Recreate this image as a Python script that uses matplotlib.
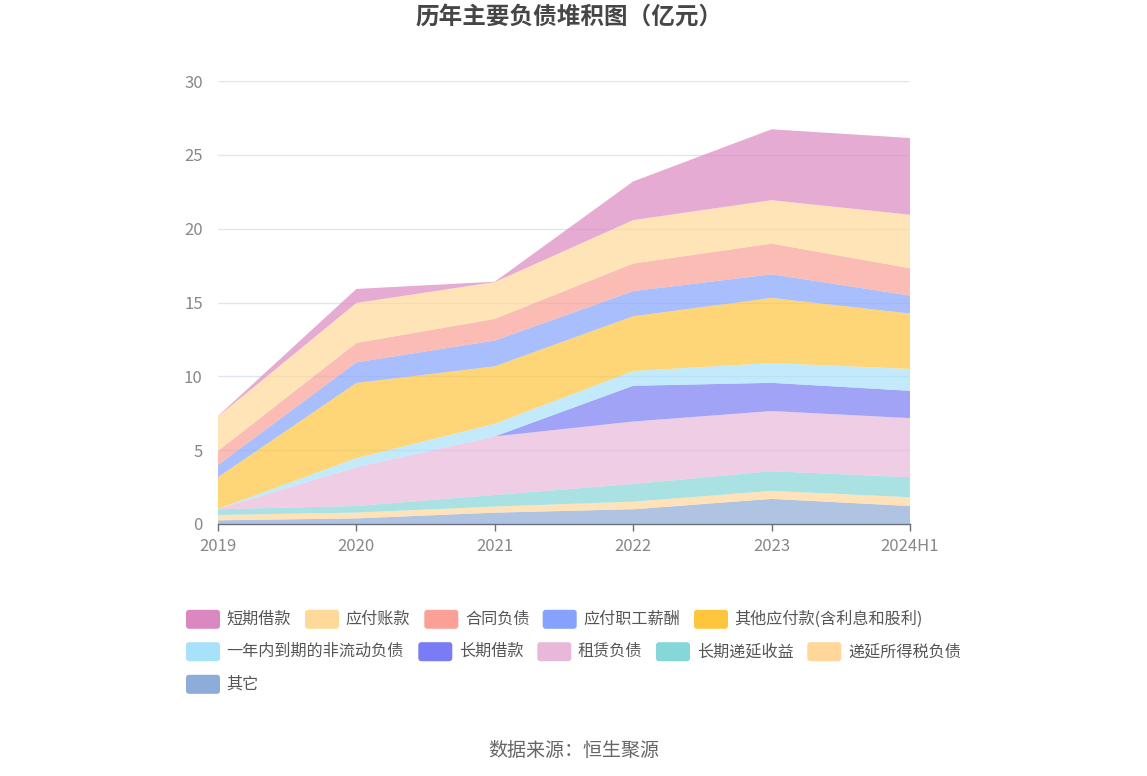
#!/usr/bin/env python3
# -*- coding: utf-8 -*-

import matplotlib

matplotlib.use("Agg")
import matplotlib.pyplot as plt
from matplotlib.patches import FancyBboxPatch

plt.rcParams["font.family"] = ["Noto Sans CJK SC", "DejaVu Sans"]

# 历年主要负债（亿元），从下往上堆叠
periods = ["2019", "2020", "2021", "2022", "2023", "2024H1"]
other = [0.25, 0.38, 0.77, 1.00, 1.70, 1.22]
deferred_tax = [0.36, 0.39, 0.41, 0.51, 0.54, 0.59]
deferred_income = [0.39, 0.45, 0.79, 1.20, 1.34, 1.36]
lease = [0.02, 2.63, 3.96, 4.23, 4.07, 4.00]
long_loan = [0.00, 0.00, 0.00, 2.42, 1.91, 1.85]
current_noncurrent = [0.00, 0.61, 0.86, 1.00, 1.34, 1.48]
other_payable = [2.15, 5.09, 3.89, 3.71, 4.41, 3.75]
payroll = [0.83, 1.40, 1.74, 1.70, 1.60, 1.22]
contract = [0.95, 1.31, 1.47, 1.87, 2.08, 1.85]
accounts_payable = [2.33, 2.71, 2.49, 2.94, 2.94, 3.62]
short_loan = [0.03, 0.95, 0.03, 2.62, 4.80, 5.20]

stack_series = [other, deferred_tax, deferred_income, lease, long_loan,
                current_noncurrent, other_payable, payroll, contract,
                accounts_payable, short_loan]
stack_colors = ["#8EACD8", "#FFD79B", "#86D7D8", "#E8B8DA", "#7A7CF5",
                "#A8E2FA", "#FFC53D", "#85A3FC", "#FAA096", "#FFD999", "#DC88C0"]

legend_names = ["短期借款", "应付账款", "合同负债", "应付职工薪酬", "其他应付款(含利息和股利)",
                "一年内到期的非流动负债", "长期借款", "租赁负债", "长期递延收益", "递延所得税负债",
                "其它"]
legend_colors = ["#DC88C0", "#FFD999", "#FAA096", "#85A3FC", "#FFC53D",
                 "#A8E2FA", "#7A7CF5", "#E8B8DA", "#86D7D8", "#FFD79B",
                 "#8EACD8"]
# legend box left edges / row centres in pixels
legend_x = [186, 305, 424.3, 542.7, 694,
            186, 418.3, 537.3, 656, 807.3,
            186]
legend_y = [619.3] * 5 + [651.7] * 5 + [684.3]

W, H = 1147, 776
fig = plt.figure(figsize=(W / 100, H / 100), dpi=100)
ax = fig.add_axes([218 / W, (H - 524) / H, (910 - 218) / W, (524 - 81) / H])

x = list(range(len(periods)))
ax.stackplot(x, *stack_series, colors=stack_colors, alpha=0.7, linewidth=0)

ax.set_xlim(0, len(periods) - 1)
ax.set_ylim(0, 30)
ax.set_yticks(range(0, 31, 5))
ax.set_xticks(x)
ax.set_xticklabels(periods)
for spine in ["top", "right", "left"]:
    ax.spines[spine].set_visible(False)
ax.spines["bottom"].set_color("#6E7079")
ax.spines["bottom"].set_linewidth(1.0)
ax.tick_params(axis="x", length=5, width=1, color="#6E7079", pad=5,
               labelsize=12, labelcolor="#888888")
ax.tick_params(axis="y", length=0, pad=11, labelsize=12, labelcolor="#888888")
for val in range(5, 31, 5):
    ax.axhline(val, color="#E0E6F1", linewidth=1, zorder=0)

# overlay in pixel units for title, legend and footer
over = fig.add_axes([0, 0, 1, 1], facecolor="none")
over.set_xlim(0, W)
over.set_ylim(H, 0)
over.axis("off")

over.text(W / 2 - 4, 18, "历年主要负债堆积图（亿元）", ha="center", va="center",
          fontsize=17, fontweight="bold", color="#464646")
over.text(W / 2, 750, "数据来源：恒生聚源", ha="center", va="center",
          fontsize=13.7, color="#666666")

for name, color, lx, ly in zip(legend_names, legend_colors, legend_x, legend_y):
    box = FancyBboxPatch((lx + 3, ly - 6.5), 28, 13,
                         boxstyle="round,pad=3", facecolor=color, edgecolor="none")
    over.add_patch(box)
    over.text(lx + 40.7, ly, name, ha="left", va="center",
              fontsize=11.6, color="#555555")

fig.savefig("out.png", dpi=100)
plt.close(fig)
